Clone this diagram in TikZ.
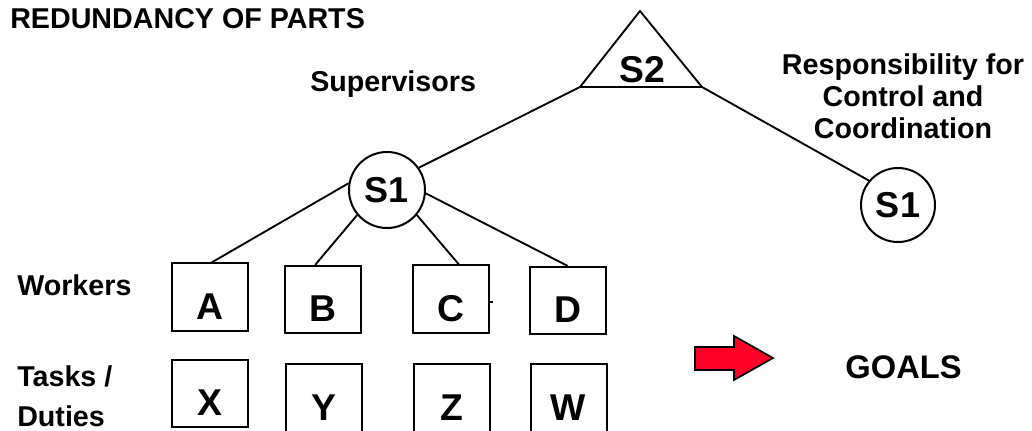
\documentclass[tikz,border=0pt]{standalone}
\usepackage{fontspec}
\setmainfont{Liberation Sans}
\usetikzlibrary{calc}
\definecolor{arrowred}{RGB}{255,0,40}
\begin{document}
\begin{tikzpicture}[x=0.75pt,y=-0.75pt,
  lbl/.style={font=\fontsize{21.5}{26}\selectfont\bfseries, inner sep=0pt},
  box/.style={draw, line width=1.5pt, minimum width=57pt, minimum height=50.5pt, inner sep=0pt,
    font=\fontsize{28}{30}\selectfont\bfseries, text height=33pt, text depth=0pt},
  sup/.style={draw, circle, line width=1.5pt, inner sep=0pt, font=\fontsize{27}{30}\selectfont\bfseries},
  conn/.style={line width=1.4pt}]
\useasboundingbox (0,0) rectangle (1032,430);
% labels
\node[lbl, anchor=base west] (title) at (10,28) {REDUNDANCY OF PARTS};
\node[lbl, anchor=base west] (sup) at (310,91) {Supervisors};
\node[lbl, anchor=base] (r1) at (903,74) {Responsibility for};
\node[lbl, anchor=base] (r2) at (903,106) {Control and};
\node[lbl, anchor=base] (r3) at (903,138) {Coordination};
\node[lbl, anchor=base west] (work) at (17,295) {Workers};
\node[lbl, anchor=base west] (tasks) at (17,386) {Tasks /};
\node[lbl, anchor=base west] (duties) at (17,426) {Duties};
\node[font=\fontsize{24.5}{28}\selectfont\bfseries, inner sep=0pt, anchor=base] (goals) at (903.5,378) {GOALS};
% S2 triangle
\coordinate (S2t) at (640,11);
\coordinate (S2l) at (580,87);
\coordinate (S2r) at (702,87);
\draw[line width=1.4pt, line join=miter] (S2t) -- (S2r) -- (S2l) -- cycle;
\node[font=\fontsize{28}{30}\selectfont\bfseries, inner sep=0pt, anchor=base] (S2) at (642,82) {S2};
% supervisors
\node[sup, minimum size=57pt] (S1L) at (387,190) {S1};
\node[sup, minimum size=55.5pt] (S1R) at (898,205) {S1};
% worker boxes
\node[box] (A) at (209.5,297) {A};
\node[box] (B) at (323,299.5) {B};
\node[box] (C) at (451,299) {C};
\node[box] (D) at (567.5,300.5) {D};
% task boxes
\node[box] (X) at (209.5,393.5) {X};
\node[box] (Y) at (324,398) {Y};
\node[box] (Z) at (452,398) {Z};
\node[box] (W) at (568.5,398) {W};
% connectors
\draw[conn] (S2l) -- (S1L.35);
\draw[conn] (S2r) -- (S1R.140);
\draw[conn] (S1L.170) -- ($(A.north west)!0.53!(A.north east)$);
\draw[conn] (S1L.220) -- ($(B.north west)!0.4!(B.north east)$);
\draw[conn] (S1L.-40) -- ($(C.north west)!0.6!(C.north east)$);
\draw[conn] (S1L.-5) -- ($(D.north west)!0.5!(D.north east)$);
\draw[line width=1pt] ($(C.east)+(0,3)$) -- ++(3,0);
% goal arrow
\draw[line width=1.3pt, fill=arrowred, line join=miter]
  (695,347) -- (734,347) -- (734,336) -- (773,358) -- (734,380) -- (734,370) -- (695,370) -- cycle;
\end{tikzpicture}
\end{document}
